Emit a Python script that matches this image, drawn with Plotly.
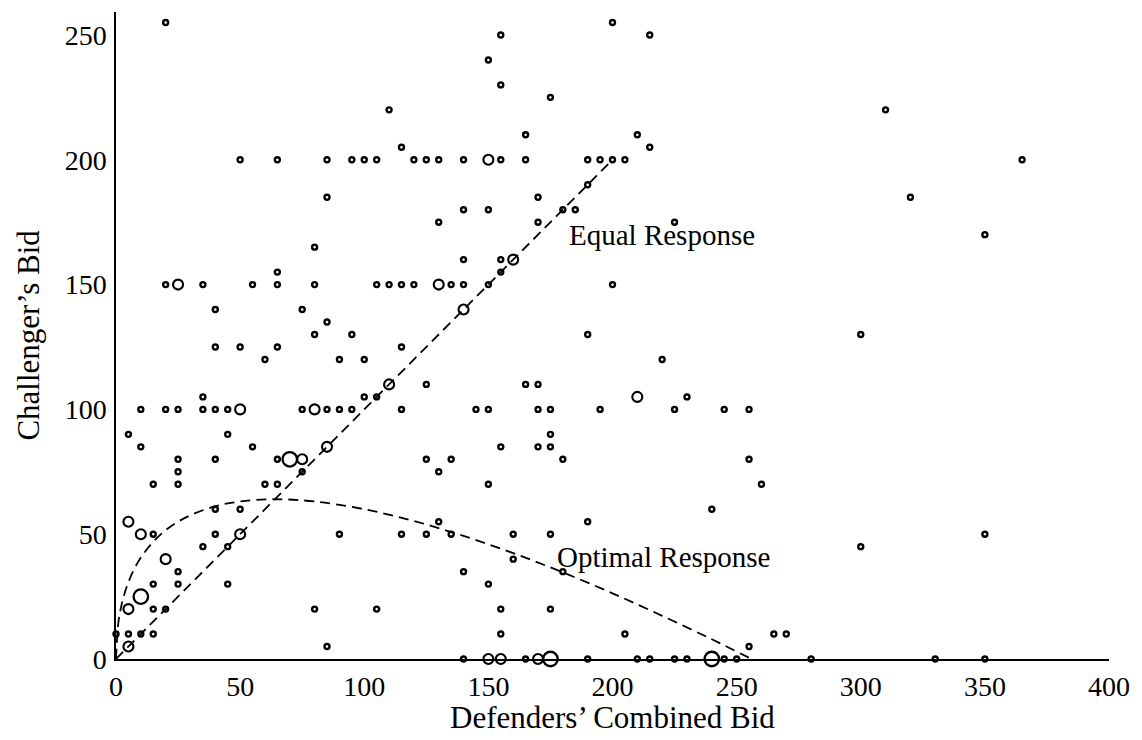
import plotly.graph_objects as go

# ---- data ----
small_x = [20, 200, 155, 215, 150, 155, 175, 110, 310, 165, 210, 115, 215,
           50, 65, 85, 95, 100, 105, 120, 125, 130, 140, 155, 165, 190, 195, 200, 205, 365,
           190, 85, 170, 320, 140, 150, 180, 185,
           130, 170, 225, 350, 80,
           140, 155, 65, 155,
           20, 35, 55, 65, 80, 105, 110, 115, 120, 135, 140, 150, 200,
           40, 75, 85,
           80, 95, 190, 300,
           40, 50, 65, 115,
           60, 90, 100, 220,
           125, 165, 170,
           35, 100, 105, 230,
           10, 20, 25, 35, 40, 45, 75, 85, 90, 95, 115, 145, 150, 170, 175, 195, 225, 245, 255,
           5, 45, 175,
           10, 55, 155, 170, 175,
           25, 40, 65, 125, 135, 180, 255,
           25, 75, 130,
           15, 25, 60, 65, 150, 260,
           40, 50, 240,
           130, 190,
           15, 40, 90, 115, 125, 135, 160, 175, 350,
           35, 45, 300,
           160,
           25, 140, 180,
           15, 25, 45, 150,
           15, 20, 80, 105, 155, 175,
           0, 5, 10, 15, 155, 205, 265, 270,
           85, 255,
           140, 165, 190, 210, 215, 225, 230, 245, 250, 280, 330, 350]
small_y = [255, 255, 250, 250, 240, 230, 225, 220, 220, 210, 210, 205, 205,
           200, 200, 200, 200, 200, 200, 200, 200, 200, 200, 200, 200, 200, 200, 200, 200, 200,
           190, 185, 185, 185, 180, 180, 180, 180,
           175, 175, 175, 170, 165,
           160, 160, 155, 155,
           150, 150, 150, 150, 150, 150, 150, 150, 150, 150, 150, 150, 150,
           140, 140, 135,
           130, 130, 130, 130,
           125, 125, 125, 125,
           120, 120, 120, 120,
           110, 110, 110,
           105, 105, 105, 105,
           100, 100, 100, 100, 100, 100, 100, 100, 100, 100, 100, 100, 100, 100, 100, 100, 100, 100, 100,
           90, 90, 90,
           85, 85, 85, 85, 85,
           80, 80, 80, 80, 80, 80, 80,
           75, 75, 75,
           70, 70, 70, 70, 70, 70,
           60, 60, 60,
           55, 55,
           50, 50, 50, 50, 50, 50, 50, 50, 50,
           45, 45, 45,
           40,
           35, 35, 35,
           30, 30, 30, 30,
           20, 20, 20, 20, 20, 20,
           10, 10, 10, 10, 10, 10, 10, 10,
           5, 5,
           0, 0, 0, 0, 0, 0, 0, 0, 0, 0, 0, 0]

medium_x = [25, 150, 160, 130, 140, 110, 50, 80, 85, 75, 5, 10, 50, 20, 5, 5, 210, 150, 155, 170]
medium_y = [150, 200, 160, 150, 140, 110, 100, 100, 85, 80, 55, 50, 50, 40, 20, 5, 105, 0, 0, 0]

large_x = [70, 10, 175, 240]
large_y = [80, 25, 0, 0]

equal_x = [0, 200]
equal_y = [0, 200]

optimal_x = [0, 1, 2, 3, 5, 8, 12, 16, 20, 25, 30, 40, 50, 64, 80, 100, 120,
             140, 160, 180, 200, 220, 240, 256]
optimal_y = [0, 15, 20.6, 24.7, 30.8, 37.3, 43.4, 48, 51.6, 55, 57.6, 61.2, 63.1, 64,
             63.1, 60, 55.3, 49.3, 42.4, 34.7, 26.3, 17.3, 7.9, 0]

x_ticks = [0, 50, 100, 150, 200, 250, 300, 350, 400]
y_ticks = [0, 50, 100, 150, 200, 250]

FONT = "Liberation Serif"

fig = go.Figure()
dash_line = dict(color="black", width=1.8, dash="10px,6px")
fig.add_trace(go.Scatter(x=equal_x, y=equal_y, mode="lines", line=dash_line,
                         hoverinfo="skip", cliponaxis=False))
fig.add_trace(go.Scatter(x=optimal_x, y=optimal_y, mode="lines", line=dash_line,
                         line_shape="spline", hoverinfo="skip", cliponaxis=False))
fig.add_trace(go.Scatter(x=small_x, y=small_y, mode="markers", cliponaxis=False,
                         marker=dict(symbol="circle-open", size=5, color="black",
                                     line=dict(width=2.4, color="black"))))
fig.add_trace(go.Scatter(x=medium_x, y=medium_y, mode="markers", cliponaxis=False,
                         marker=dict(symbol="circle-open", size=10, color="black",
                                     line=dict(width=2.1, color="black"))))
fig.add_trace(go.Scatter(x=large_x, y=large_y, mode="markers", cliponaxis=False,
                         marker=dict(symbol="circle-open", size=14.5, color="black",
                                     line=dict(width=2.3, color="black"))))

fig.add_annotation(x=220, y=170, text="Equal Response", showarrow=False,
                   font=dict(family=FONT, size=29, color="black"))
fig.add_annotation(x=220.5, y=41, text="Optimal Response", showarrow=False,
                   font=dict(family=FONT, size=29, color="black"))

fig.add_annotation(xref="paper", yref="paper", x=0.5, y=-0.091,
                   text="Defenders\u2019 Combined Bid", showarrow=False,
                   xanchor="center", yanchor="middle",
                   font=dict(family=FONT, size=31, color="black"))
fig.add_annotation(xref="paper", yref="paper", x=-0.0885, y=0.5,
                   text="Challenger\u2019s Bid", showarrow=False, textangle=-90,
                   xanchor="center", yanchor="middle",
                   font=dict(family=FONT, size=31, color="black"))

fig.update_layout(
    width=1142, height=740,
    margin=dict(l=116, r=30, t=12, b=81),
    paper_bgcolor="white", plot_bgcolor="white",
    showlegend=False,
    font=dict(family=FONT, size=28, color="black"),
    xaxis=dict(range=[0, 400], tickvals=x_ticks, showgrid=False, zeroline=False,
               showline=True, linecolor="black", linewidth=1.5,
               ticks="outside", ticklen=2, tickcolor="rgba(0,0,0,0)",
               tickfont=dict(family=FONT, size=28)),
    yaxis=dict(range=[0, 259.2], tickvals=y_ticks, showgrid=False, zeroline=False,
               showline=True, linecolor="black", linewidth=1.5,
               ticks="outside", ticklen=2, tickcolor="rgba(0,0,0,0)",
               tickfont=dict(family=FONT, size=28)),
)

fig.write_html("out.html")
